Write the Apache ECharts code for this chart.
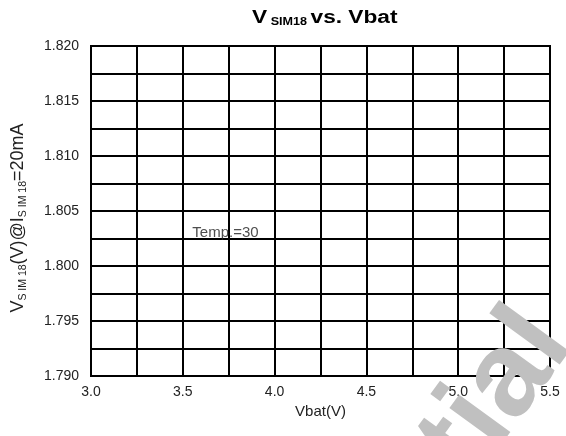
<!DOCTYPE html>
<html>
<head>
<meta charset="utf-8">
<script src="https://cdn.jsdelivr.net/npm/echarts@6/dist/echarts.min.js"></script>
<style>
  html, body { margin: 0; padding: 0; background: #fff; }
  #chart { width: 566px; height: 436px; }
</style>
</head>
<body>
<div id="chart"></div>
<script>
// axis ranges / ticks
const xRange = [3.0, 5.5];
const xStep = 0.5;
const yRange = [1.790, 1.820];
const yStep = 0.005;

// measured curve (none drawn in the reference plot)
const vbat = [];
const vsim = [];

// annotation
const noteX = [3.552];
const noteY = [1.8030];
const noteText = ['Temp.=30'];

const font = 'Liberation Sans, Arial, sans-serif';
const chart = echarts.init(document.getElementById('chart'));

chart.setOption({
  animation: false,
  grid: {
    left: 91,
    right: 16,
    top: 46,
    bottom: 60,
    show: true,
    borderColor: '#000',
    borderWidth: 2
  },
  xAxis: {
    type: 'value',
    min: xRange[0],
    max: xRange[1],
    interval: xStep,
    name: 'Vbat(V)',
    nameLocation: 'middle',
    nameGap: 27,
    nameTextStyle: { fontSize: 15, color: '#222', fontFamily: font },
    axisLine: { lineStyle: { color: '#000', width: 2 } },
    axisTick: { show: false },
    axisLabel: {
      margin: 9,
      fontSize: 14,
      color: '#222',
      fontFamily: font,
      formatter: v => v.toFixed(1)
    },
    splitLine: { show: true, lineStyle: { color: '#000', width: 2 } },
    minorTick: { show: false, splitNumber: 2 },
    minorSplitLine: { show: true, lineStyle: { color: '#000', width: 2 } }
  },
  yAxis: {
    type: 'value',
    min: yRange[0],
    max: yRange[1],
    interval: yStep,
    axisLine: { lineStyle: { color: '#000', width: 2 } },
    axisTick: { show: false },
    axisLabel: {
      margin: 12,
      fontSize: 14,
      color: '#222',
      fontFamily: font,
      formatter: v => v.toFixed(3)
    },
    splitLine: { show: true, lineStyle: { color: '#000', width: 2 } },
    minorTick: { show: false, splitNumber: 2 },
    minorSplitLine: { show: true, lineStyle: { color: '#000', width: 2 } }
  },
  series: [
    {
      type: 'line',
      data: vbat.map((x, i) => [x, vsim[i]]),
      lineStyle: { color: '#000', width: 2 },
      symbol: 'none'
    },
    {
      type: 'scatter',
      symbolSize: 0,
      data: noteX.map((x, i) => [x, noteY[i]]),
      label: {
        show: true,
        position: 'right',
        distance: 0,
        fontSize: 15,
        color: '#222',
        fontFamily: font,
        formatter: p => noteText[p.dataIndex]
      },
      z: 5
    }
  ],
  graphic: [
    {
      // title, drawn a bit wide like the original
      type: 'text',
      x: 252,
      y: 9,
      scaleX: 1.26,
      style: {
        text: '{a|V}{b| SIM18 }{a|vs. Vbat}',
        rich: {
          a: { fontSize: 18, fontWeight: 'bold', fill: '#000', fontFamily: font },
          b: { fontSize: 10, fontWeight: 'bold', fill: '#000', fontFamily: font, verticalAlign: 'bottom', padding: [7, 0, 0, 0] }
        }
      }
    },
    {
      // y axis name
      type: 'text',
      x: 18,
      y: 218,
      rotation: Math.PI / 2,
      style: {
        text: '{a|V}{b|S IM 18}{a|(V)@I}{b|S IM 18}{a|=20mA}',
        textAlign: 'center',
        textVerticalAlign: 'middle',
        rich: {
          a: { fontSize: 18, fill: '#222', fontFamily: font },
          b: { fontSize: 10.5, fill: '#222', fontFamily: font, verticalAlign: 'bottom', padding: [10, 0, 0, 0] }
        }
      }
    },
    {
      // watermark
      type: 'text',
      x: 596,
      y: 360,
      rotation: 54 * Math.PI / 180,
      z: 100,
      silent: true,
      style: {
        text: 'Confidential',
        font: 'bold 120px Liberation Sans, Arial, sans-serif',
        fill: '#c0c0c0',
        textAlign: 'right',
        textVerticalAlign: 'bottom'
      }
    }
  ]
});
</script>
</body>
</html>
